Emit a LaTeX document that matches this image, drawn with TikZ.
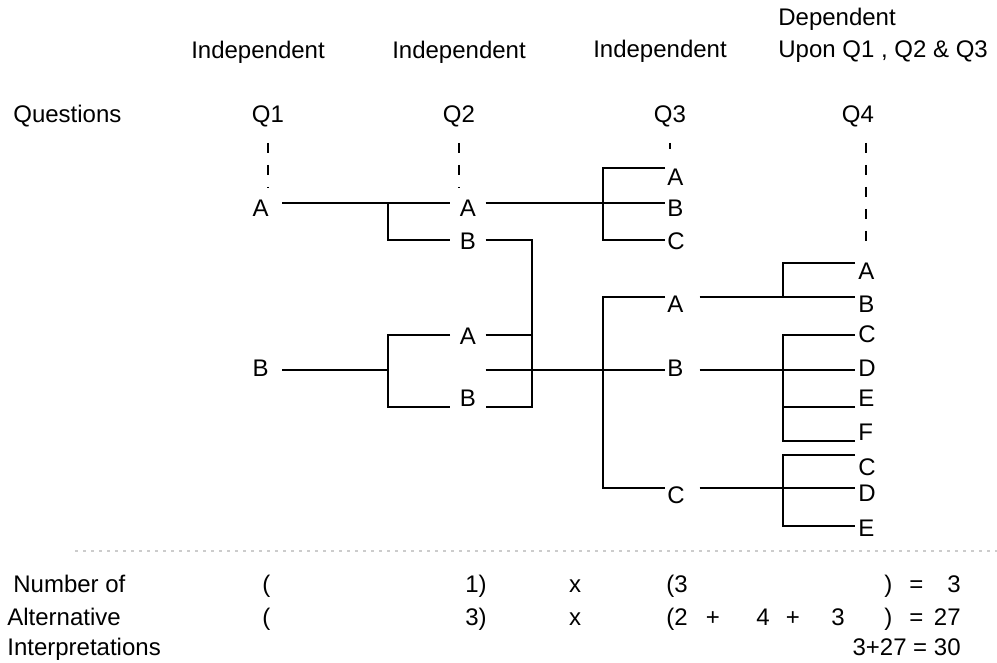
\documentclass[tikz,border=0pt]{standalone}
\usepackage{fontspec}
\setmainfont{Liberation Sans}

\begin{document}
\begin{tikzpicture}
[x=0.5pt,y=-0.5pt,line width=1.35pt,font=\fontsize{12}{14}\selectfont,
 head/.style={anchor=base,inner sep=0pt},
 txt/.style={anchor=base west,inner sep=0pt},
 ans/.style={inner xsep=0pt,inner ysep=0pt,text height=14pt,text depth=0pt},
 ansone/.style={ans,anchor=east,inner xsep=6pt},
 anstwo/.style={ans,anchor=west,text width=16.5pt,align=center},
 ansthree/.style={ans,anchor=west,inner xsep=0.5pt,text width=15pt,align=left},
 ansfour/.style={ans,anchor=west,inner xsep=1pt,text width=8pt,align=left},
 qline/.style={line width=1.1pt,dash pattern=on 5pt off 6pt,shorten <=7pt}]
\useasboundingbox (0,0) rectangle (997,663);

\node[head] (ind1) at (258,59) {Independent};
\node[head] (ind2) at (459,59) {Independent};
\node[head] (ind3) at (660,58) {Independent};
\node[txt] (dep) at (777,26) {Dependent};
\node[txt] (upon) at (777,58) {Upon Q1 , Q2 \& Q3};
\node[txt] (quest) at (12,123) {Questions};
\node[head] (q1) at (268,123) {Q1};
\node[head] (q2) at (459,123) {Q2};
\node[head] (q3) at (670,123) {Q3};
\node[head] (q4) at (858,123) {Q4};

\node[ansone] (q1a) at (282,203) {A};
\node[ansone,text height=7pt] (q1b) at (282,370) {B};
\node[anstwo] (q2aa) at (450,203) {A};
\node[anstwo,text height=10pt] (q2ab) at (450,240) {B};
\node[anstwo,text height=10pt] (q2ba) at (450,335) {A};
\node[anstwo,text height=0pt] (q2bb) at (450,407) {B};
\node[ansthree,text height=18pt] (q3a) at (665,168) {A};
\node[ansthree] (q3b) at (665,203) {B};
\node[ansthree,text height=10pt] (q3c) at (665,240) {C};
\node[ansthree,text height=16pt] (q3xa) at (665,297) {A};
\node[ansthree,text height=7pt] (q3xb) at (665,370) {B};
\node[ansthree,text height=15pt] (q3xc) at (665,488) {C};
\node[ansfour,text height=17pt] (q4aa) at (855,263) {A};
\node[ansfour,text height=16pt] (q4ab) at (855,297) {B};
\node[ansfour,text height=8pt] (q4bc) at (855,335) {C};
\node[ansfour,text height=7pt] (q4bd) at (855,370) {D};
\node[ansfour,text height=0pt] (q4be) at (855,407) {E};
\node[ansfour,text height=0pt] (q4bf) at (855,441) {F};
\node[ansfour,text height=20pt] (q4cc) at (855,455) {C};
\node[ansfour] (q4cd) at (855,488) {D};
\node[ansfour,text height=11pt] (q4ce) at (855,526) {E};

\coordinate (j1) at (388,0);
\coordinate (j2) at (532,0);
\coordinate (j3) at (603,0);
\coordinate (j4) at (783,0);

\draw[qline] (q1.south) -- (q1.south |- q1a.north);
\draw[qline] (q2.south) -- (q2.south |- q2aa.north);
\draw[qline] (q3.south) -- (q3.south |- q3a.north);
\draw[qline] (q4aa.north |- q4.south) -- (q4aa.north);

\draw (q1a.east) -- (q2aa.west);
\draw (q1a.east -| j1) |- (q2ab.west);
\draw (q1b.east) -- (q1b.east -| j1);
\draw (q2ba.west) -| (j1 |- q2bb.west) -- (q2bb.west);
\draw (q2aa.east) -- (q3b.west);
\draw (q3a.west) -| (j3 |- q3c.west) -- (q3c.west);
\draw (q2ab.east) -| (j2 |- q2bb.east) -- (q2bb.east);
\draw (q2ba.east) -- (q2ba.east -| j2);
\draw (q2ba.east |- q3xb.west) -- (q3xb.west);
\draw (q3xa.west) -| (j3 |- q3xc.west) -- (q3xc.west);
\draw (q3xa.east) -- (q4ab.west);
\draw (q4aa.west) -| (j4 |- q4ab.west);
\draw (q3xb.east) -- (q4bd.west);
\draw (q4bc.west) -| (j4 |- q4bf.west) -- (q4bf.west);
\draw (q4be.west) -- (q4be.west -| j4);
\draw (q3xc.east) -- (q4cd.west);
\draw (q4cc.west) -| (j4 |- q4ce.west) -- (q4ce.west);

\coordinate (rulea) at (75,551);
\coordinate (ruleb) at (997,551);
\draw[gray!40,line width=0.6pt,dash pattern=on 1.5pt off 2.5pt] (rulea) -- (ruleb);

\node[txt] (num) at (12,592) {Number of};
\node[txt] (alt) at (6,625) {Alternative};
\node[txt] (interp) at (6,655) {Interpretations};

\node[txt] (ra1) at (261,592) {(};
\node[txt,anchor=base east] (rb1) at (488,592) {1)};
\node[head] (rx1) at (575,592) {x};
\node[txt] (rc1) at (665,592) {(3};
\node[txt] (rd1) at (883,592) {)};
\node[txt] (re1) at (908,592) {=};
\node[txt,anchor=base east] (rf1) at (962,592) {3};

\node[txt] (ra2) at (261,625) {(};
\node[txt,anchor=base east] (rb2) at (488,625) {3)};
\node[head] (rx2) at (575,625) {x};
\node[txt] (rc2) at (665,625) {(2};
\node[head] (rp2) at (713,625) {+};
\node[head] (rg2) at (763,625) {4};
\node[head] (rq2) at (793,625) {+};
\node[head] (rh2) at (838,625) {3};
\node[txt] (rd2) at (883,625) {)};
\node[txt] (re2) at (908,625) {=};
\node[txt,anchor=base east] (rf2) at (962,625) {27};

\node[txt,anchor=base east] (rf3) at (962,655) {3+27 = 30};
\end{tikzpicture}
\end{document}
